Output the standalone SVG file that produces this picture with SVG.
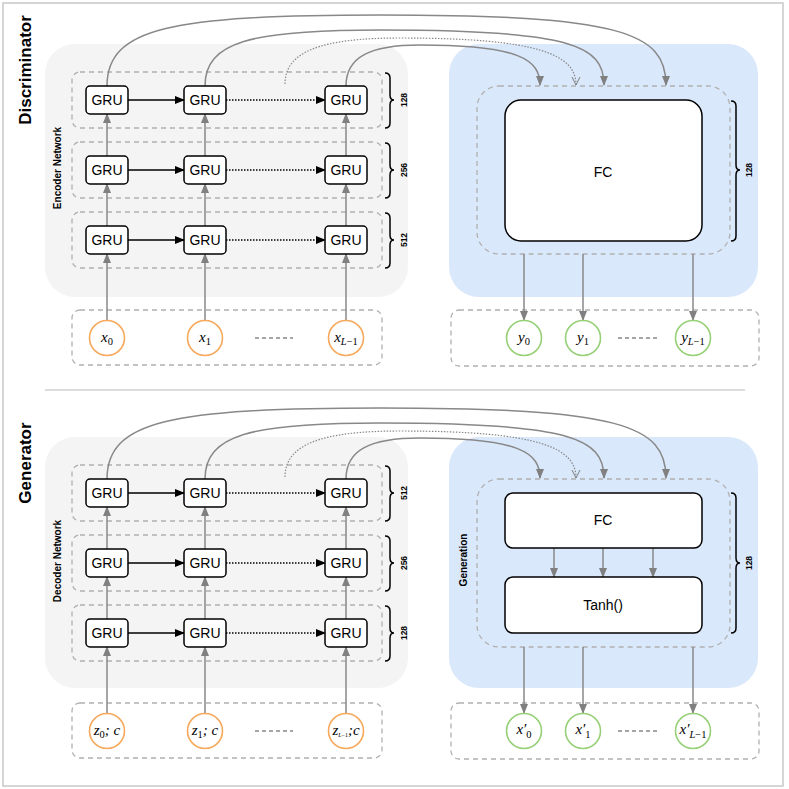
<svg xmlns="http://www.w3.org/2000/svg" width="789" height="789" viewBox="0 0 789 789">
<defs>
<style>
.panelg{fill:#f4f4f4}
.panelb{fill:#dae8fc}
.dash{fill:none;stroke:#b0b0b0;stroke-width:1.3;stroke-dasharray:5,4}
.gru rect,.blk{fill:#fff;stroke:#000;stroke-width:1.5}
.lbl{font-family:"Liberation Sans",Arial,sans-serif;font-size:14px;fill:#000;text-anchor:middle}
.bold{font-family:"Liberation Sans",Arial,sans-serif;font-weight:bold;fill:#000;text-anchor:middle}
.v{stroke:#888;stroke-width:1.5;fill:none;marker-end:url(#ga)}
.h{stroke:#000;stroke-width:1.5;fill:none;marker-end:url(#ba)}
.hd{stroke:#000;stroke-width:1.5;fill:none;stroke-dasharray:1.5,1.5;marker-end:url(#ba)}
.cv{stroke:#888;stroke-width:1.5;fill:none;marker-end:url(#ga)}
.cvd{stroke:#888;stroke-width:1.2;fill:none;stroke-dasharray:1.5,1.5;marker-end:url(#oa)}
.brace{fill:none;stroke:#000;stroke-width:1.5}
.inc{fill:#fff;stroke:#f7a95c;stroke-width:1.6}
.outc{fill:#fff;stroke:#97d077;stroke-width:1.6}
.math{font-family:"Liberation Serif","DejaVu Serif",serif;font-style:italic;font-size:15px;fill:#000;text-anchor:middle}
.sub{font-size:10.5px;font-style:normal}
.dots{stroke:#888;stroke-width:1.3;stroke-dasharray:4,3}
</style>
<marker id="ga" markerWidth="10" markerHeight="10" refX="9" refY="5" orient="auto" markerUnits="userSpaceOnUse"><path d="M0,1 L10,5 L0,9 Z" fill="#808080"/></marker>
<marker id="ba" markerWidth="10" markerHeight="10" refX="9" refY="5" orient="auto" markerUnits="userSpaceOnUse"><path d="M0,1 L10,5 L0,9 Z" fill="#000"/></marker>
<marker id="oa" markerWidth="10" markerHeight="10" refX="9" refY="5" orient="auto" markerUnits="userSpaceOnUse"><path d="M1,1 L9,5 L1,9" fill="none" stroke="#808080" stroke-width="1"/></marker>
</defs>
<rect x="3" y="3" width="780" height="783" fill="#fff" stroke="#c8c8c8" stroke-width="1.5"/>
<line x1="45" y1="390" x2="745" y2="390" stroke="#d0d0d0" stroke-width="1.5"/>

<!-- ============ DISCRIMINATOR ============ -->
<g id="discriminator">
<text class="bold" font-size="17" transform="translate(31,70) rotate(-90)">Discriminator</text>
<rect class="panelg" x="45" y="44" width="363" height="253" rx="30"/>
<rect class="panelb" x="449" y="44" width="309" height="253" rx="30"/>
<text class="bold" font-size="10" transform="translate(61,168) rotate(-90)">Encoder Network</text>
<rect class="dash" x="72" y="72" width="310" height="56" rx="8"/>
<rect class="dash" x="72" y="142" width="310" height="56" rx="8"/>
<rect class="dash" x="72" y="212" width="310" height="56" rx="8"/>
<path class="brace" d="M385,73 Q390,73 390,78 L390,95 Q390,100 394,100 Q390,100 390,105 L390,123 Q390,128 385,128"/>
<path class="brace" d="M385,143 Q390,143 390,148 L390,165 Q390,170 394,170 Q390,170 390,175 L390,193 Q390,198 385,198"/>
<path class="brace" d="M385,213 Q390,213 390,218 L390,235 Q390,240 394,240 Q390,240 390,245 L390,263 Q390,268 385,268"/>
<text class="bold" font-size="8.5" transform="translate(407,100) rotate(-90)">128</text>
<text class="bold" font-size="8.5" transform="translate(407,170) rotate(-90)">256</text>
<text class="bold" font-size="8.5" transform="translate(407,240) rotate(-90)">512</text>
<rect class="dash" x="72" y="310" width="310" height="55" rx="8"/>
<rect class="dash" x="477" y="86" width="253" height="168" rx="22"/>
<rect class="dash" x="451" y="310" width="308" height="56" rx="8"/>
<path class="brace" d="M731,101 Q736,101 736,106 L736,165 Q736,170 740,170 Q736,170 736,175 L736,236 Q736,241 731,241"/>
<text class="bold" font-size="8.5" transform="translate(752,170) rotate(-90)">128</text>
</g>

<g id="d-connectors">
<line class="v" x1="107" y1="320" x2="107" y2="254"/>
<line class="v" x1="205" y1="320" x2="205" y2="254"/>
<line class="v" x1="346" y1="320" x2="346" y2="254"/>
<line class="v" x1="107" y1="226" x2="107" y2="184"/>
<line class="v" x1="205" y1="226" x2="205" y2="184"/>
<line class="v" x1="346" y1="226" x2="346" y2="184"/>
<line class="v" x1="107" y1="156" x2="107" y2="114"/>
<line class="v" x1="205" y1="156" x2="205" y2="114"/>
<line class="v" x1="346" y1="156" x2="346" y2="114"/>
<line class="h" x1="128" y1="100" x2="184" y2="100"/>
<line class="h" x1="128" y1="170" x2="184" y2="170"/>
<line class="h" x1="128" y1="240" x2="184" y2="240"/>
<line class="hd" x1="226" y1="100" x2="325" y2="100"/>
<line class="hd" x1="226" y1="170" x2="325" y2="170"/>
<line class="hd" x1="226" y1="240" x2="325" y2="240"/>
<path class="cv" d="M107,86 C107,28 170,15 380,15 C620,15 666,32 666,85"/>
<path class="cv" d="M205,86 C205,42 250,30 380,30 C570,30 604,45 604,85"/>
<path class="cvd" d="M285,84 C285,52 320,38 400,38 C540,38 576,55 576,85"/>
<path class="cv" d="M346,86 C346,57 370,45 420,45 C520,45 540,60 540,85"/>
<line class="v" x1="524" y1="254" x2="524" y2="320"/>
<line class="v" x1="583" y1="254" x2="583" y2="320"/>
<line class="v" x1="693" y1="254" x2="693" y2="320"/>
</g>

<g id="d-gru-1-1" class="gru"><rect x="86" y="86" width="42" height="28" rx="4"/><text class="lbl" x="107" y="105">GRU</text></g>
<g id="d-gru-1-2" class="gru"><rect x="184" y="86" width="42" height="28" rx="4"/><text class="lbl" x="205" y="105">GRU</text></g>
<g id="d-gru-1-3" class="gru"><rect x="325" y="86" width="42" height="28" rx="4"/><text class="lbl" x="346" y="105">GRU</text></g>
<g id="d-gru-2-1" class="gru"><rect x="86" y="156" width="42" height="28" rx="4"/><text class="lbl" x="107" y="175">GRU</text></g>
<g id="d-gru-2-2" class="gru"><rect x="184" y="156" width="42" height="28" rx="4"/><text class="lbl" x="205" y="175">GRU</text></g>
<g id="d-gru-2-3" class="gru"><rect x="325" y="156" width="42" height="28" rx="4"/><text class="lbl" x="346" y="175">GRU</text></g>
<g id="d-gru-3-1" class="gru"><rect x="86" y="226" width="42" height="28" rx="4"/><text class="lbl" x="107" y="245">GRU</text></g>
<g id="d-gru-3-2" class="gru"><rect x="184" y="226" width="42" height="28" rx="4"/><text class="lbl" x="205" y="245">GRU</text></g>
<g id="d-gru-3-3" class="gru"><rect x="325" y="226" width="42" height="28" rx="4"/><text class="lbl" x="346" y="245">GRU</text></g>

<g id="d-fc"><rect class="blk" x="505" y="100" width="197" height="141" rx="16"/><text class="lbl" x="603" y="177">FC</text></g>

<g id="d-x0"><circle class="inc" cx="107" cy="338" r="17.5"/><text class="math" x="107" y="342">x<tspan class="sub" dy="3">0</tspan></text></g>
<g id="d-x1"><circle class="inc" cx="205" cy="338" r="17.5"/><text class="math" x="205" y="342">x<tspan class="sub" dy="3">1</tspan></text></g>
<line class="dots" x1="255" y1="338" x2="293" y2="338"/>
<g id="d-xL"><circle class="inc" cx="346" cy="338" r="17.5"/><text class="math" x="346" y="342">x<tspan class="sub" dy="3"><tspan font-style="italic">L</tspan>−1</tspan></text></g>

<g id="d-y0"><circle class="outc" cx="524" cy="338" r="17.5"/><text class="math" x="524" y="342">y<tspan class="sub" dy="3">0</tspan></text></g>
<g id="d-y1"><circle class="outc" cx="583" cy="338" r="17.5"/><text class="math" x="583" y="342">y<tspan class="sub" dy="3">1</tspan></text></g>
<line class="dots" x1="618" y1="338" x2="657" y2="338"/>
<g id="d-yL"><circle class="outc" cx="693" cy="338" r="17.5"/><text class="math" x="693" y="342">y<tspan class="sub" dy="3"><tspan font-style="italic">L</tspan>−1</tspan></text></g>

<!-- ============ GENERATOR ============ -->
<g id="generator">
<text class="bold" font-size="17" transform="translate(31,463) rotate(-90)">Generator</text>
<rect class="panelg" x="45" y="437" width="363" height="251" rx="30"/>
<rect class="panelb" x="449" y="437" width="309" height="251" rx="30"/>
<text class="bold" font-size="10" transform="translate(61,561) rotate(-90)">Decoder Network</text>
<text class="bold" font-size="10" transform="translate(467,560) rotate(-90)">Generation</text>
<rect class="dash" x="72" y="465" width="310" height="56" rx="8"/>
<rect class="dash" x="72" y="535" width="310" height="56" rx="8"/>
<rect class="dash" x="72" y="605" width="310" height="56" rx="8"/>
<path class="brace" d="M385,466 Q390,466 390,471 L390,488 Q390,493 394,493 Q390,493 390,498 L390,516 Q390,521 385,521"/>
<path class="brace" d="M385,536 Q390,536 390,541 L390,558 Q390,563 394,563 Q390,563 390,568 L390,586 Q390,591 385,591"/>
<path class="brace" d="M385,606 Q390,606 390,611 L390,628 Q390,633 394,633 Q390,633 390,638 L390,656 Q390,661 385,661"/>
<text class="bold" font-size="8.5" transform="translate(407,493) rotate(-90)">512</text>
<text class="bold" font-size="8.5" transform="translate(407,563) rotate(-90)">256</text>
<text class="bold" font-size="8.5" transform="translate(407,633) rotate(-90)">128</text>
<rect class="dash" x="72" y="703" width="310" height="55" rx="8"/>
<rect class="dash" x="477" y="479" width="253" height="168" rx="22"/>
<rect class="dash" x="451" y="703" width="308" height="56" rx="8"/>
<path class="brace" d="M731,493 Q736,493 736,498 L736,558 Q736,563 740,563 Q736,563 736,568 L736,628 Q736,633 731,633"/>
<text class="bold" font-size="8.5" transform="translate(752,563) rotate(-90)">128</text>
</g>

<g id="g-connectors">
<line class="v" x1="107" y1="713" x2="107" y2="647"/>
<line class="v" x1="205" y1="713" x2="205" y2="647"/>
<line class="v" x1="346" y1="713" x2="346" y2="647"/>
<line class="v" x1="107" y1="619" x2="107" y2="577"/>
<line class="v" x1="205" y1="619" x2="205" y2="577"/>
<line class="v" x1="346" y1="619" x2="346" y2="577"/>
<line class="v" x1="107" y1="549" x2="107" y2="507"/>
<line class="v" x1="205" y1="549" x2="205" y2="507"/>
<line class="v" x1="346" y1="549" x2="346" y2="507"/>
<line class="h" x1="128" y1="493" x2="184" y2="493"/>
<line class="h" x1="128" y1="563" x2="184" y2="563"/>
<line class="h" x1="128" y1="633" x2="184" y2="633"/>
<line class="hd" x1="226" y1="493" x2="325" y2="493"/>
<line class="hd" x1="226" y1="563" x2="325" y2="563"/>
<line class="hd" x1="226" y1="633" x2="325" y2="633"/>
<path class="cv" d="M107,479 C107,421 170,408 380,408 C620,408 666,425 666,478"/>
<path class="cv" d="M205,479 C205,435 250,423 380,423 C570,423 604,438 604,478"/>
<path class="cvd" d="M285,477 C285,445 320,431 400,431 C540,431 576,448 576,478"/>
<path class="cv" d="M346,479 C346,450 370,438 420,438 C520,438 540,453 540,478"/>
<line class="v" x1="554" y1="548" x2="554" y2="577"/>
<line class="v" x1="603" y1="548" x2="603" y2="577"/>
<line class="v" x1="653" y1="548" x2="653" y2="577"/>
<line class="v" x1="524" y1="647" x2="524" y2="713"/>
<line class="v" x1="583" y1="647" x2="583" y2="713"/>
<line class="v" x1="693" y1="647" x2="693" y2="713"/>
</g>

<g id="g-gru-1-1" class="gru"><rect x="86" y="479" width="42" height="28" rx="4"/><text class="lbl" x="107" y="498">GRU</text></g>
<g id="g-gru-1-2" class="gru"><rect x="184" y="479" width="42" height="28" rx="4"/><text class="lbl" x="205" y="498">GRU</text></g>
<g id="g-gru-1-3" class="gru"><rect x="325" y="479" width="42" height="28" rx="4"/><text class="lbl" x="346" y="498">GRU</text></g>
<g id="g-gru-2-1" class="gru"><rect x="86" y="549" width="42" height="28" rx="4"/><text class="lbl" x="107" y="568">GRU</text></g>
<g id="g-gru-2-2" class="gru"><rect x="184" y="549" width="42" height="28" rx="4"/><text class="lbl" x="205" y="568">GRU</text></g>
<g id="g-gru-2-3" class="gru"><rect x="325" y="549" width="42" height="28" rx="4"/><text class="lbl" x="346" y="568">GRU</text></g>
<g id="g-gru-3-1" class="gru"><rect x="86" y="619" width="42" height="28" rx="4"/><text class="lbl" x="107" y="638">GRU</text></g>
<g id="g-gru-3-2" class="gru"><rect x="184" y="619" width="42" height="28" rx="4"/><text class="lbl" x="205" y="638">GRU</text></g>
<g id="g-gru-3-3" class="gru"><rect x="325" y="619" width="42" height="28" rx="4"/><text class="lbl" x="346" y="638">GRU</text></g>

<g id="g-fc"><rect class="blk" x="505" y="493" width="197" height="55" rx="8"/><text class="lbl" x="603" y="525">FC</text></g>
<g id="g-tanh"><rect class="blk" x="505" y="577" width="197" height="56" rx="8"/><text class="lbl" x="603" y="610">Tanh()</text></g>

<g id="g-z0"><circle class="inc" cx="107" cy="731" r="17.5"/><text class="math" x="107" y="735" font-size="14">z<tspan class="sub" dy="3">0</tspan><tspan dy="-3">; c</tspan></text></g>
<g id="g-z1"><circle class="inc" cx="205" cy="731" r="17.5"/><text class="math" x="205" y="735" font-size="14">z<tspan class="sub" dy="3">1</tspan><tspan dy="-3">; c</tspan></text></g>
<line class="dots" x1="255" y1="731" x2="293" y2="731"/>
<g id="g-zL"><circle class="inc" cx="346" cy="731" r="17.5"/><text class="math" x="346" y="735" font-size="14">z<tspan font-size="6" font-style="normal" dy="2"><tspan font-style="italic">L</tspan>−1</tspan><tspan dy="-2">;c</tspan></text></g>

<g id="g-x0"><circle class="outc" cx="524" cy="731" r="17.5"/><text class="math" x="524" y="734">x′<tspan class="sub" dy="4">0</tspan></text></g>
<g id="g-x1"><circle class="outc" cx="583" cy="731" r="17.5"/><text class="math" x="583" y="734">x′<tspan class="sub" dy="4">1</tspan></text></g>
<line class="dots" x1="618" y1="731" x2="657" y2="731"/>
<g id="g-xL"><circle class="outc" cx="693" cy="731" r="17.5"/><text class="math" x="693" y="734">x′<tspan class="sub" dy="4"><tspan font-style="italic">L</tspan>−1</tspan></text></g>
</svg>
